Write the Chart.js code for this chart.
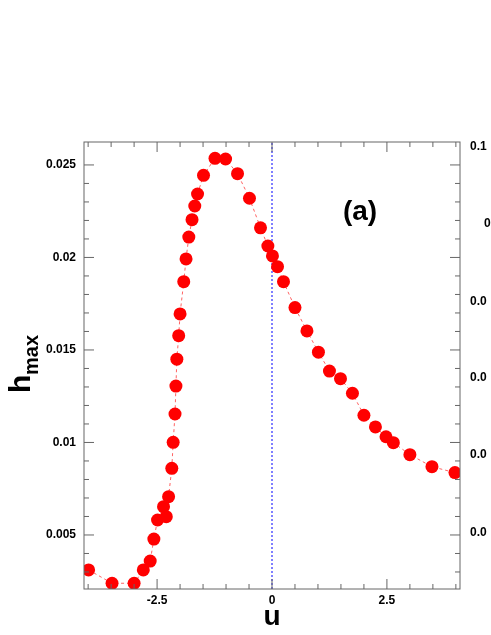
<!DOCTYPE html>
<html><head><meta charset="utf-8">
<script src="https://cdn.jsdelivr.net/npm/chart.js@4/dist/chart.umd.min.js"></script>
<style>html,body{margin:0;padding:0;background:#fff;overflow:hidden}#w{position:relative;width:491px;height:635px}
.r{position:absolute;left:470px;font:bold 12px "Liberation Sans",Arial;}</style></head>
<body><div id="w"><canvas id="c" width="491" height="635"></canvas>
<div class="r" style="top:139px">0.1</div><div class="r" style="top:216px;left:484px">0</div>
<div class="r" style="top:294px">0.0</div><div class="r" style="top:370px">0.0</div>
<div class="r" style="top:447px">0.0</div><div class="r" style="top:525px">0.0</div></div>
<script>
const uVals=[-3.99,-3.48,-3.0,-2.80,-2.65,-2.57,-2.49,-2.36,-2.30,-2.25,-2.18,-2.15,-2.11,-2.09,-2.07,-2.03,-2.0,-1.92,-1.87,-1.81,-1.74,-1.68,-1.62,-1.49,-1.24,-1.01,-0.75,-0.49,-0.25,-0.09,0.01,0.12,0.25,0.50,0.76,1.01,1.25,1.49,1.75,2.0,2.25,2.48,2.64,3.0,3.48,3.98];
const hVals=[0.00311,0.00239,0.00239,0.00311,0.00359,0.00478,0.00581,0.00653,0.00599,0.00707,0.0086,0.01001,0.01154,0.01305,0.0145,0.01577,0.01695,0.01869,0.01992,0.0211,0.02204,0.02278,0.02343,0.02444,0.02536,0.02532,0.02453,0.0232,0.0216,0.02062,0.02008,0.0195,0.01869,0.01729,0.01603,0.01488,0.01386,0.01345,0.01266,0.01147,0.01084,0.01031,0.00999,0.00934,0.00869,0.00837];
const xTicks=[-2.5,0,2.5];
const yTicks=[0.005,0.01,0.015,0.02,0.025];
const X0=-4.09,X1=4.09,Y0=0.00208,Y1=0.02624;
const F='"Liberation Sans",Arial,sans-serif';
const deco={id:'deco',afterDraw(ch){const c=ch.ctx,a=ch.chartArea,xs=ch.scales.x,ys=ch.scales.y;c.save();
c.strokeStyle='#666';c.lineWidth=1;c.strokeRect(a.left,a.top,a.right-a.left,a.bottom-a.top);
c.beginPath();
for(let v=-4;v<=4.001;v+=0.5){const p=xs.getPixelForValue(v),L=(Math.abs(v%2.5)<1e-6)?10:5;c.moveTo(p,a.bottom);c.lineTo(p,a.bottom-L);c.moveTo(p,a.top);c.lineTo(p,a.top+L);}
for(let v=0.003;v<=0.026;v+=0.001){const p=ys.getPixelForValue(v),L=(Math.abs(v/0.005-Math.round(v/0.005))<1e-6)?10:5;c.moveTo(a.left,p);c.lineTo(a.left+L,p);c.moveTo(a.right,p);c.lineTo(a.right-L,p);}
c.stroke();
c.fillStyle='#000';c.font='bold 12px '+F;c.textAlign='right';c.textBaseline='middle';
yTicks.forEach(v=>c.fillText(String(v),a.left-8,ys.getPixelForValue(v)));
c.textAlign='center';c.textBaseline='top';
xTicks.forEach(v=>c.fillText(String(v),xs.getPixelForValue(v),a.bottom+6));
c.font='bold 28px '+F;c.fillText('u',272,603);
c.font='bold 28px '+F;c.fillText('(a)',360,198);
c.translate(30,365);c.rotate(-Math.PI/2);c.textAlign='left';c.textBaseline='alphabetic';
c.font='bold 30px '+F;c.fillText('h',-28,0);c.font='bold 20px '+F;c.fillText('max',-10,8);
c.restore();}};
new Chart(document.getElementById('c'),{type:'scatter',
data:{datasets:[{data:uVals.map((u,i)=>({x:u,y:hVals[i]})),showLine:true,borderColor:'rgba(255,60,60,0.8)',borderWidth:1,borderDash:[3,3],backgroundColor:'#ff0000',pointRadius:6.5,pointBorderWidth:0,pointHoverRadius:6.5},
{data:[{x:0,y:Y0},{x:0,y:Y1}],showLine:true,borderColor:'#0000ff',borderWidth:1,borderDash:[2,2],pointRadius:0}]},
options:{responsive:false,animation:false,events:[],layout:{padding:{top:142,right:31,left:0,bottom:0}},
plugins:{legend:{display:false},tooltip:{enabled:false}},
scales:{x:{min:X0,max:X1,grid:{display:false},border:{display:false},ticks:{display:false},afterFit(s){s.height=46;}},
y:{min:Y0,max:Y1,grid:{display:false},border:{display:false},ticks:{display:false},afterFit(s){s.width=84;}}}},
plugins:[deco]});
</script></body></html>
